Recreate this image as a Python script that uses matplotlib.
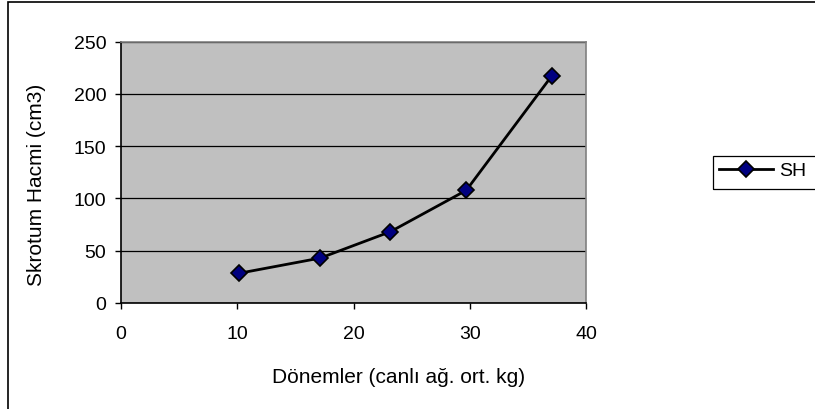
import matplotlib.pyplot as plt
from matplotlib.patches import Rectangle

plt.rcParams['font.family'] = ['Liberation Sans', 'DejaVu Sans']

# Données
kg = [10.14, 17.14, 23.17, 29.7, 37.07]
sh = [28.4, 43, 68.2, 107.8, 217.5]
xticks = [0, 10, 20, 30, 40]
yticks = [0, 50, 100, 150, 200, 250]

fig = plt.figure(figsize=(8.15, 4.10), dpi=100)
ax = fig.add_axes([121 / 815, 1 - 304 / 410, 465 / 815, 261.3 / 410])
ax.set_facecolor('#c0c0c0')

ax.plot(kg, sh, color='black', lw=2, marker='D', markersize=8,
        markerfacecolor='#000080', markeredgecolor='black', markeredgewidth=1.2,
        label='SH', zorder=3)

ax.set_xlim(0, 40)
ax.set_ylim(0, 250)
ax.set_xticks(xticks)
ax.set_yticks(yticks)
ax.grid(axis='y', color='black', lw=0.9)
ax.set_axisbelow(True)
ax.tick_params(labelsize=14, length=4.5, width=1, color='black')
ax.tick_params(axis='x', pad=11)
ax.tick_params(axis='y', pad=6)
for s in ['left', 'bottom']:
    ax.spines[s].set_color('black')
    ax.spines[s].set_linewidth(1.2)
for s in ['top', 'right']:
    ax.spines[s].set_color('#808080')
    ax.spines[s].set_linewidth(1.2)

ax.set_xlabel('Dönemler (canlı ağ. ort. kg)', fontsize=15, va='center')
ax.set_ylabel('Skrotum Hacmi (cm3)', fontsize=15, va='center')
ax.xaxis.set_label_coords(0.596, -0.283)
ax.yaxis.set_label_coords(-0.181, 0.455)

leg = fig.legend(loc='upper left', bbox_to_anchor=(713 / 815, 1 - 157 / 410),
                 fontsize=14, frameon=False, borderpad=0.3, handlelength=2.8,
                 handletextpad=0.3, borderaxespad=0)
# cadre de la légende (coupé à droite comme l'original)
fig.patches.append(Rectangle((713 / 815, 1 - 190 / 410), 0.3, 33 / 410, transform=fig.transFigure,
                             fill=False, edgecolor='black', lw=0.9))

# cadre extérieur
fig.patches.append(Rectangle((8 / 815, -0.1), 1.2, 1 - 3 / 410 + 0.1, transform=fig.transFigure,
                             fill=False, edgecolor='black', lw=1.2))

fig.savefig('out.png', dpi=100)
